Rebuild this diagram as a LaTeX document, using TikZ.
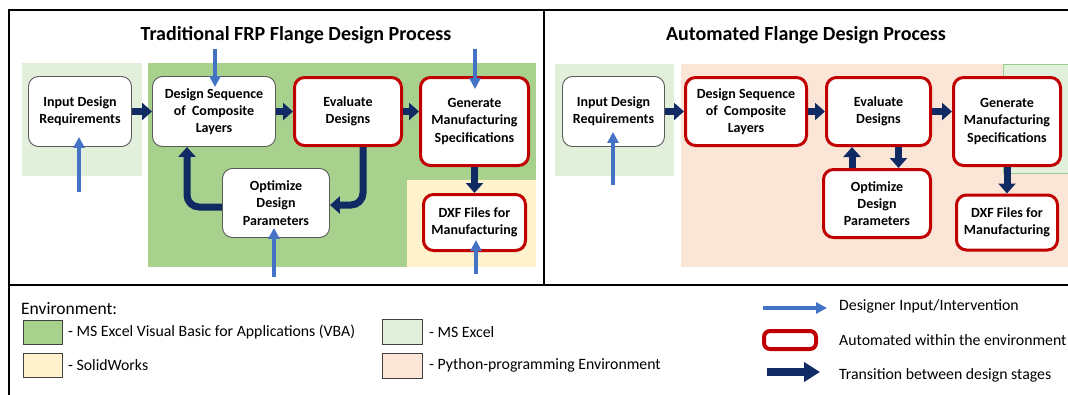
\documentclass[tikz,border=0pt]{standalone}
\usepackage{fontspec}
\setmainfont{Carlito}
\usetikzlibrary{arrows.meta,positioning,calc}
\definecolor{VBAc}{RGB}{169,209,142}
\definecolor{XLc}{RGB}{226,239,218}
\definecolor{XLedge}{RGB}{150,205,140}
\definecolor{SWc}{RGB}{255,242,204}
\definecolor{PYc}{RGB}{251,229,214}
\definecolor{NavyArr}{RGB}{16,42,100}
\definecolor{BlueArr}{RGB}{68,114,196}
\definecolor{AutoRed}{RGB}{192,0,0}
\newcommand{\boxfont}{\fontsize{14}{17.2}\selectfont\bfseries}
\newcommand{\legfont}{\fontsize{15.8}{18}\selectfont}
\tikzset{
  stage/.style={rectangle,rounded corners=10pt,draw=black!65,line width=0.9pt,
                fill=white,align=center,font=\boxfont,inner sep=1pt},
  autobox/.style={stage,draw=AutoRed,line width=3pt},
  trans/.style={-{Triangle[length=10pt,width=17pt]},line width=7pt,NavyArr},
  dsgn/.style={-{Triangle[length=11pt,width=11pt]},line width=3.2pt,BlueArr},
  envbox/.style={draw=black!75,line width=1pt},
  legtext/.style={anchor=west,inner sep=0pt,font=\legfont},
  ttl/.style={font=\fontsize{20}{24}\selectfont\bfseries,inner sep=0pt},
  panelline/.style={line width=2.5pt,black},
}

\begin{document}
\begin{tikzpicture}[x=1pt,y=-1pt]
  \clip (0,0) rectangle (1068,394);
  \fill[white] (0,0) rectangle (1068,394);

  % environments
  \fill[XLc] (22,63) rectangle (142,176);
  \fill[VBAc] (148,63) rectangle (536,267);
  \fill[SWc] (407,180) rectangle (536,267);
  \fill[XLc] (555,64) rectangle (674,176);
  \fill[PYc] (681,64) rectangle (1075,267);
  \filldraw[fill=XLc,draw=XLedge,line width=0.8pt] (1003,64) rectangle (1075,173);

  % panels
  \draw[panelline] (9,400) -- (9,10) -- (1080,10);
  \draw[panelline] (9,285) -- (1080,285);
  \draw[panelline] (544,10) -- (544,285);

  \node[ttl] (ttlL) at (296,35) {Traditional FRP Flange Design Process};
  \node[ttl] (ttlR) at (806,35) {Automated Flange Design Process};

  % traditional process
  \node[stage,minimum width=103pt,minimum height=70pt] (inL) at (80,111.5) {Input Design\\Requirements};
  \node[stage,minimum width=123pt,minimum height=70pt] (dsL) at (214,111.5) {Design Sequence\\of~ Composite\\Layers};
  \node[autobox,minimum width=107pt,minimum height=68pt] (evL) at (348,111.5) {Evaluate\\Designs};
  \node[autobox,minimum width=108pt,minimum height=88pt] (gnL) at (474.5,121.5) {Generate\\Manufacturing\\Specifications};
  \node[stage,minimum width=107pt,minimum height=69pt] (opL) at (276,203) {Optimize\\Design\\Parameters};
  \node[autobox,minimum width=102pt,minimum height=56pt] (dxL) at (474.5,222.5) {DXF Files for\\Manufacturing};

  \draw[trans] (inL) -- (dsL);
  \draw[trans] (dsL) -- (evL);
  \draw[trans] (evL.east) -- (evL.east -| gnL.west);
  \draw[trans] (gnL) -- (dxL);
  \draw[trans,rounded corners=12pt] ([xshift=15pt]evL.south) |- ([yshift=-2pt]opL.east);
  \draw[trans,rounded corners=12pt] ([yshift=-4pt]opL.west) -| ([xshift=-27pt]dsL.south);

  \coordinate (uDsL) at (215,49);
  \coordinate (uGnL) at (475,49);
  \coordinate (uInL) at (79,192);
  \coordinate (uOpL) at (274,277);
  \coordinate (uDxL) at (476,274);
  \draw[dsgn,shorten >=-11pt] (uDsL) -- (uDsL |- dsL.north);
  \draw[dsgn,shorten >=-13pt] (uGnL) -- (uGnL |- gnL.north);
  \draw[dsgn,shorten >=-10pt] (uInL) -- (uInL |- inL.south);
  \draw[dsgn,shorten >=-10pt] (uOpL) -- (uOpL |- opL.south);
  \draw[dsgn,shorten >=-12pt] (uDxL) -- (uDxL |- dxL.south);

  % automated process
  \node[stage,minimum width=102pt,minimum height=70pt] (inR) at (613.5,111.5) {Input Design\\Requirements};
  \node[autobox,minimum width=121pt,minimum height=68pt] (dsR) at (746,111.5) {Design Sequence\\of~ Composite\\Layers};
  \node[autobox,minimum width=104pt,minimum height=68pt] (evR) at (878.5,111.5) {Evaluate\\Designs};
  \node[autobox,minimum width=107pt,minimum height=88pt] (gnR) at (1007,121.5) {Generate\\Manufacturing\\Specifications};
  \node[autobox,minimum width=107pt,minimum height=68pt] (opR) at (877,203.5) {Optimize\\Design\\Parameters};
  \node[autobox,minimum width=101pt,minimum height=55pt] (dxR) at (1007,222.5) {DXF Files for\\Manufacturing};

  \draw[trans] (inR) -- (dsR);
  \draw[trans] (dsR) -- (evR);
  \draw[trans] (evR.east) -- (evR.east -| gnR.west);
  \draw[trans] (gnR) -- (dxR);
  \coordinate (upR) at ([xshift=-25pt]opR.north);
  \coordinate (dnR) at ([xshift=20pt]evR.south);
  \draw[trans] (upR) -- (upR |- evR.south);
  \draw[trans] (dnR) -- (dnR |- opR.north);

  \coordinate (uInR) at (613,185);
  \draw[dsgn,shorten >=-15pt] (uInR) -- (uInR |- inR.south);

  % legend
  \node[anchor=west,inner sep=0pt,font=\fontsize{17.5}{20}\selectfont] (envT) at (21,309) {Environment:};
  \filldraw[envbox,fill=VBAc] (23,320) rectangle (62,344);
  \filldraw[envbox,fill=SWc] (23,353) rectangle (62,377);
  \filldraw[envbox,fill=XLc] (382,319) rectangle (422,344);
  \filldraw[envbox,fill=PYc] (382,353) rectangle (422,378);
  \node[legtext] (envVBA) at (68,332) {- MS Excel Visual Basic for Applications (VBA)};
  \node[legtext] (envSW) at (68,365) {- SolidWorks};
  \node[legtext] (envXL) at (429,332) {- MS Excel};
  \node[legtext] (envPY) at (429,365) {- Python-programming Environment};

  \coordinate (legU0) at (763,308);
  \coordinate (legU1) at (827,308);
  \draw[dsgn] (legU0) -- (legU1);
  \node[stage,draw=AutoRed,line width=4pt,rounded corners=6pt,minimum width=52pt,minimum height=18pt] (legAuto) at (790,340) {};
  \coordinate (legT0) at (767,372);
  \coordinate (legT1) at (820,372);
  \draw[trans,-{Triangle[length=16pt,width=19pt]},line width=8pt] (legT0) -- (legT1);
  \node[legtext] (legUT) at (839,306) {Designer Input/Intervention};
  \node[legtext] (legAT) at (839,340) {Automated within the environment};
  \node[legtext] (legTT) at (839,375) {Transition between design stages};
\end{tikzpicture}
\end{document}
